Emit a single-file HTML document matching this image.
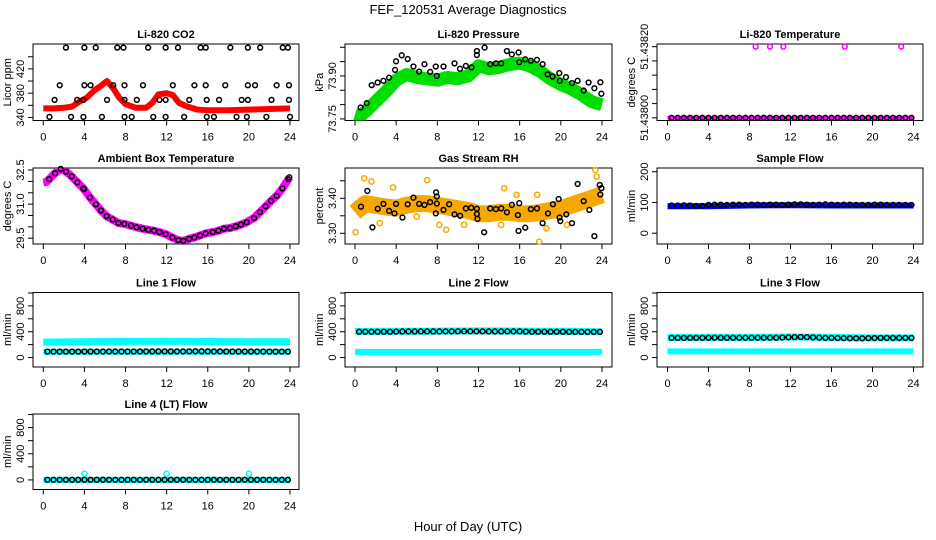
<!DOCTYPE html>
<html><head><meta charset="utf-8"><title>FEF_120531 Average Diagnostics</title>
<style>
html,body{margin:0;padding:0;background:#fff;}
svg{display:block;font-family:"Liberation Sans",Arial,sans-serif;}
</style></head>
<body>
<svg id="chart" width="936" height="540" viewBox="0 0 936 540" xmlns="http://www.w3.org/2000/svg">
<rect x="0" y="0" width="936" height="540" fill="#fff"/>
<text x="468" y="14" font-size="13" text-anchor="middle">FEF_120531  Average Diagnostics</text>
<text x="468" y="531" font-size="13" text-anchor="middle">Hour of Day (UTC)</text>
</svg>
<script>
// ---------- data ----------
const xTicks = [0,4,8,12,16,20,24];
const flatHours = [0.4,1.0,1.6,2.2,2.8,3.4,4.0,4.6,5.2,5.8,6.4,7.0,7.6,8.2,8.8,9.4,10.0,10.6,11.2,11.8,12.4,13.0,13.6,14.2,14.8,15.4,16.0,16.6,17.2,17.8,18.4,19.0,19.6,20.2,20.8,21.4,22.0,22.6,23.2,23.8];
const bandHours = [0,4,8,12,16,20,24];

// CO2
const co2Ticks = [340,360,380,400,420,440];
const co2Labels = [340,380,420];
const co2BandHours = [0,1,2,2.8,3.5,4.2,5,5.6,6.2,6.8,7.4,8,9,10,10.6,11.2,12,12.6,13.2,14,15,16,18,20,22,24];
const co2BandVals = [355,355,356,358,366,372,385,392,400,388,372,362,356,356,364,378,380,377,364,358,353,352,352,353,354,355];
const co2Row1H = [2.2,4.0,5.1,7.2,7.8,10.2,11.9,13.1,15.3,15.8,18.2,19.9,21.1,23.3,23.8];
const co2Row1V = [455,455,455,455,455,455,455,455,455,455,455,455,455,455,455];
const co2Row2H = [1.6,4.0,4.6,6.8,7.9,9.7,12.6,14.7,15.8,17.7,19.9,20.6,22.7,23.9];
const co2Row2V = [393,393,393,393,393,393,393,393,393,393,393,393,393,393];
const co2Row3H = [1.1,3.3,3.9,6.2,7.9,9.1,11.3,11.9,14.2,15.9,17.1,19.3,19.9,22.2,23.9];
const co2Row3V = [369,369,369,369,369,369,369,369,369,369,369,369,369,369,369];
const co2Row4H = [0.6,2.7,3.9,5.7,7.9,8.6,10.7,11.9,13.7,15.9,16.6,18.8,19.8,21.7,24.0];
const co2Row4V = [341,341,341,341,341,341,341,341,341,341,341,341,341,341,341];

// Pressure
const presTicks = [73.75,73.80,73.85,73.90,73.95,74.00];
const presLabels = [73.75,73.90];
const presBandHours = [0,0.5,1,2,3,4,5,6,7,8,9,10,11,12,13,14,15,16,17,18,19,20,21,22,23,24];
const presBandVals = [73.765,73.76,73.775,73.81,73.845,73.885,73.905,73.895,73.89,73.885,73.895,73.89,73.9,73.935,73.925,73.93,73.94,73.945,73.935,73.915,73.89,73.87,73.855,73.835,73.81,73.8];
const presCircH = [0.55,1.14,1.62,2.2,2.76,3.31,3.89,3.99,4.54,5.12,5.68,6.23,6.75,7.3,7.85,7.95,8.6,9.67,10.2,10.77,11.32,11.84,11.84,12.59,13.14,13.69,14.2,14.76,15.24,15.89,15.96,16.54,17.09,17.68,18.23,18.72,19.2,19.85,19.9,20.5,21.08,21.63,22.22,22.7,23.26,23.84,23.94];
const presCircV = [73.79,73.805,73.868,73.877,73.883,73.894,73.921,73.951,73.972,73.959,73.933,73.915,73.941,73.914,73.933,73.9,73.933,73.944,73.925,73.935,73.93,73.973,73.987,73.999,73.941,73.944,73.944,73.987,73.975,73.982,73.948,73.958,73.953,73.956,73.941,73.906,73.898,73.91,73.883,73.896,73.875,73.883,73.849,73.877,73.857,73.878,73.838];

// Li-820 Temperature
const ltTicks = [51.438,51.43804,51.43808,51.43812,51.43816,51.4382];
const ltLabels = ["51.43800","51.43820"];
const ltLabelVals = [51.438,51.4382];
const ltBandVals = [51.438,51.438,51.438,51.438,51.438,51.438,51.438];
const ltHighH = [8.6,10.0,11.3,17.3,22.8];
const ltHighV = [51.4382,51.4382,51.4382,51.4382,51.4382];
const ltCircV = [51.438,51.438,51.438,51.438,51.438,51.438,51.438,51.438,51.438,51.438,51.438,51.438,51.438,51.438,51.438,51.438,51.438,51.438,51.438,51.438,51.438,51.438,51.438,51.438,51.438,51.438,51.438,51.438,51.438,51.438,51.438,51.438,51.438,51.438,51.438,51.438,51.438,51.438,51.438,51.438];

// Ambient
const ambTicks = [29.5,30.0,30.5,31.0,31.5,32.0,32.5];
const ambLabels = [29.5,31.0,32.5];
const ambCircH = [0.58,1.14,1.69,2.21,2.76,3.31,3.89,3.96,4.54,5.12,5.61,6.16,6.75,7.30,7.88,8.53,9.08,9.67,10.22,10.77,11.29,11.9,12.55,13.14,13.62,14.17,14.69,15.24,15.8,16.48,17.03,17.58,18.17,18.72,19.23,19.79,20.5,21.08,21.63,22.15,22.7,23.26,23.84,23.94];
const ambCircV = [32.10,32.36,32.55,32.43,32.22,31.96,31.69,31.66,31.29,30.99,30.72,30.47,30.32,30.17,30.13,30.05,29.98,29.92,29.87,29.83,29.77,29.68,29.53,29.41,29.38,29.47,29.53,29.62,29.71,29.77,29.83,29.92,29.95,30.02,30.10,30.20,30.39,30.65,30.90,31.14,31.36,31.69,32.10,32.18];
const ambBandH = [0,0.3,0.58,1.14,1.69,2.21,2.76,3.31,3.89,4.54,5.12,5.61,6.16,6.75,7.30,7.88,8.53,9.08,9.67,10.22,10.77,11.29,11.9,12.55,13.14,13.62,14.17,14.69,15.24,15.8,16.48,17.03,17.58,18.17,18.72,19.23,19.79,20.5,21.08,21.63,22.15,22.7,23.26,23.84,23.94];
const ambBandV = [31.95,31.98,32.10,32.36,32.55,32.43,32.22,31.96,31.69,31.29,30.99,30.72,30.47,30.32,30.17,30.13,30.05,29.98,29.92,29.87,29.83,29.77,29.68,29.53,29.41,29.38,29.47,29.53,29.62,29.71,29.77,29.83,29.92,29.95,30.02,30.10,30.20,30.39,30.65,30.90,31.14,31.36,31.69,32.10,32.18];

// Gas stream RH
const rhTicks = [3.30,3.35,3.40,3.45];
const rhLabels = [3.30,3.40];
const rhBandH = [0,1,2,3,4,5,6,7,8,9,10,11,12,13,14,15,16,17,18,19,20,21,22,23,24];
const rhBandV = [3.36,3.385,3.38,3.375,3.372,3.38,3.385,3.385,3.38,3.375,3.37,3.365,3.356,3.356,3.36,3.36,3.356,3.356,3.36,3.365,3.37,3.38,3.39,3.40,3.41];
const rhOutH = [0.06,0.9,1.6,3.7,7.0,8.85,8.2,10.6,14.5,14.2,17.9,17.7,23.35,23.5,2.4,6.0,15.7,18.6,20.6];
const rhOutV = [3.303,3.457,3.448,3.431,3.452,3.31,3.324,3.324,3.429,3.324,3.276,3.41,3.481,3.462,3.329,3.348,3.41,3.314,3.324];
const rhCircH = [0.58,1.2,1.69,2.21,2.76,3.31,3.83,3.99,4.61,5.12,5.68,6.23,6.75,7.3,7.85,7.88,7.95,7.95,8.6,9.15,9.67,10.22,10.77,11.29,11.84,11.84,11.9,12.55,13.14,13.69,14.21,14.76,15.24,15.83,15.89,15.96,16.54,17.09,17.68,18.23,18.75,19.23,19.79,19.88,19.95,20.53,21.08,21.63,22.22,22.77,23.26,23.78,23.84,23.94];
const rhCircV = [3.376,3.421,3.317,3.370,3.384,3.364,3.357,3.384,3.345,3.383,3.402,3.384,3.381,3.389,3.357,3.417,3.405,3.385,3.367,3.383,3.354,3.350,3.371,3.373,3.370,3.355,3.341,3.303,3.371,3.369,3.371,3.360,3.381,3.352,3.307,3.386,3.316,3.369,3.371,3.329,3.357,3.383,3.398,3.345,3.335,3.354,3.329,3.441,3.392,3.367,3.292,3.438,3.411,3.429];

// Sample flow
const sfTicks = [0,100,200];
const sfLabels = [0,100,200];
const sfBandVals = [88,88,90,91,90,90,90];
const sfCircV = [90,90,91,90,89,89,92,93,93,92,93,93,92,93,93,92,93,93,92,93,94,94,93,92,93,94,93,92,93,93,92,92,92,93,93,92,92,92,92,92];

// Line flows
const flowTicks = [0,200,400,600,800,1000];
const flowLabels = [0,400,800];
const l1BandHi = [240,245,250,252,248,245,245];
const l1BandLo = [90,90,90,90,90,90,90];
const l1CircV = [92,92,92,92,92,92,93,93,93,93,93,93,93,93,93,94,95,95,96,96,95,95,95,96,97,97,96,95,95,94,93,93,93,93,93,93,92,92,92,92];
const l2BandHi = [405,408,410,412,410,405,400];
const l2BandLo = [88,88,88,88,88,88,88];
const l2CircV = [400,400,400,400,400,400,402,404,404,404,404,404,404,404,405,405,406,406,405,405,405,404,404,404,405,405,405,402,400,400,400,400,400,400,398,398,398,398,398,398];
const l3BandHi = [310,312,312,318,312,305,305];
const l3BandLo = [95,95,95,95,95,95,95];
const l3CircV = [305,305,305,305,305,305,306,306,306,306,306,306,306,306,306,306,306,306,310,312,316,318,316,312,308,304,304,302,300,298,298,298,300,302,304,304,304,304,304,304];
const l4BandVals = [0,0,0,0,0,0,0];
const l4OutH = [4.0,12.0,20.0];
const l4OutV = [95,95,95];
const l4CircV = [2,2,2,2,2,2,2,2,2,2,2,2,2,2,2,2,2,2,2,2,2,2,2,2,2,2,2,2,2,2,2,2,2,2,2,2,2,2,2,2];

// ---------- layout ----------
const svg = document.getElementById('chart');
const NS = 'http://www.w3.org/2000/svg';
const cols = [{l:33,r:299,x0:43.3,x24:290},{l:345,r:612,x0:355,x24:602},{l:657,r:923,x0:667.5,x24:913.5}];
const rows = [{t:44,b:120.5},{t:168,b:244},{t:292.5,b:367},{t:414,b:489.5}];

function mk(tag, attrs, parent){
  const e = document.createElementNS(NS, tag);
  for (const k in attrs) e.setAttribute(k, attrs[k]);
  (parent||svg).appendChild(e);
  return e;
}

function makePanel(name, title, ytitle, col, row, ymin, ymax, yt, yl, ylText, dec){
  const c = cols[col], r = rows[row];
  const g = mk('g', {});
  
  
  const p = {
    g: g,
    sx: h => c.x0 + h*(c.x24-c.x0)/24,
    sy: v => r.b - (v-ymin)/(ymax-ymin)*(r.b-r.t),
    c: c, r: r
  };
  const box = mk('rect', {x:c.l, y:r.t, width:c.r-c.l, height:r.b-r.t, fill:'none', stroke:'#000', 'stroke-width':1}, g);
  
  
  const tt = mk('text', {x:(c.l+c.r)/2, y:r.t-6, 'font-size':11, 'font-weight':'bold', 'text-anchor':'middle'}, g);
  tt.textContent = title;
  
  
  xTicks.forEach(h => {
    const x = p.sx(h);
    mk('line', {x1:x, x2:x, y1:r.b, y2:r.b+5, stroke:'#000', 'stroke-width':1}, g);
    const t = mk('text', {x:x, y:r.b+20, 'font-size':11, 'text-anchor':'middle'}, g);
    t.textContent = h;
    
    
  });
  yt.forEach(v => {
    const y = p.sy(v);
    mk('line', {x1:c.l-5, x2:c.l, y1:y, y2:y, stroke:'#000', 'stroke-width':1}, g);
  });
  yl.forEach((v,i) => {
    const y = p.sy(v);
    const x = c.l - 9;
    const t = mk('text', {x:x, y:y, 'font-size':11, 'text-anchor':'middle', transform:'rotate(-90 '+x+' '+y+')'}, g);
    t.textContent = ylText ? ylText[i] : (dec !== undefined ? v.toFixed(dec) : String(v));
    
    
  });
  const yx = c.l - 22, yy = (r.t+r.b)/2;
  const yti = mk('text', {x:yx, y:yy, 'font-size':11, 'text-anchor':'middle', transform:'rotate(-90 '+yx+' '+yy+')'}, g);
  yti.textContent = ytitle;
  
  
  const cp = mk('clipPath', {id:'clip-'+name}, g);
  mk('rect', {x:c.l, y:r.t, width:c.r-c.l, height:r.b-r.t}, cp);
  p.clipG = mk('g', {'clip-path':'url(#clip-'+name+')'}, g);
  p.ptsG = mk('g', {}, g);
  return p;
}

function band(p, hours, vals, color, w, nm){
  const pts = hours.map((h,i) => p.sx(h).toFixed(1)+','+p.sy(vals[i]).toFixed(1)).join(' ');
  const pl = mk('polyline', {points:pts, fill:'none', stroke:color, 'stroke-width':w, 'stroke-linecap':'butt', 'stroke-linejoin':'round'}, p.clipG);
  
  
}
function circles(p, hours, vals, color, nm, rad){
  hours.forEach((h,i) => {
    const ci = mk('circle', {cx:p.sx(h), cy:p.sy(vals[i]), r:rad||2.4, fill:'none', stroke:color, 'stroke-width':1.5}, p.ptsG);
    
    
  });
}

// ---------- panels ----------
const p1 = makePanel('co2-panel', 'Li-820 CO2', 'Licor ppm', 0, 0, 335, 461, co2Ticks, co2Labels);
band(p1, co2BandHours, co2BandVals, '#ff0000', 6, 'co2-band');
circles(p1, co2Row1H, co2Row1V, '#000', 'co2-point');
circles(p1, co2Row2H, co2Row2V, '#000', 'co2-point');
circles(p1, co2Row3H, co2Row3V, '#000', 'co2-point');
circles(p1, co2Row4H, co2Row4V, '#000', 'co2-point');

const p2 = makePanel('pressure-panel', 'Li-820 Pressure', 'kPa', 1, 0, 73.7445, 74.0115, presTicks, presLabels, null, 2);
band(p2, presBandHours, presBandVals, '#00dd00', 13, 'pressure-band');
circles(p2, presCircH, presCircV, '#000', 'pressure-point');

const p3 = makePanel('li820-temp-panel', 'Li-820 Temperature', 'degrees C', 2, 0, 51.4379925, 51.4382075, ltTicks, ltLabelVals, ltLabels);
band(p3, bandHours, ltBandVals, '#ff00ff', 4, 'li820-temp-band');
circles(p3, ltHighH, ltHighV, '#ff00ff', 'li820-temp-outlier');
circles(p3, flatHours, ltCircV, '#000', 'li820-temp-point');

const p4 = makePanel('ambient-temp-panel', 'Ambient Box Temperature', 'degrees C', 0, 1, 29.245, 32.59, ambTicks, ambLabels, null, 1);
band(p4, ambBandH, ambBandV, '#ff00ff', 8, 'ambient-temp-band');
circles(p4, ambCircH, ambCircV, '#000', 'ambient-temp-point');

const p5 = makePanel('rh-panel', 'Gas Stream RH', 'percent', 1, 1, 3.2694, 3.4866, rhTicks, rhLabels, null, 2);
band(p5, rhBandH, rhBandV, '#f7a800', 17, 'rh-band');
circles(p5, rhOutH, rhOutV, '#f7a800', 'rh-outlier', 2.6);
circles(p5, rhCircH, rhCircV, '#000', 'rh-point');

const p6 = makePanel('sample-flow-panel', 'Sample Flow', 'ml/min', 2, 1, -35, 212, sfTicks, sfLabels);
band(p6, bandHours, sfBandVals, '#0000ff', 6, 'sample-flow-band');
circles(p6, flatHours, sfCircV, '#000', 'sample-flow-point');

const p7 = makePanel('line1-flow-panel', 'Line 1 Flow', 'ml/min', 0, 2, -146, 1007, flowTicks, flowLabels);
band(p7, bandHours, l1BandHi, '#00ffff', 7, 'line1-flow-band-high');
band(p7, bandHours, l1BandLo, '#00ffff', 6, 'line1-flow-band-low');
circles(p7, flatHours, l1CircV, '#000', 'line1-flow-point');

const p8 = makePanel('line2-flow-panel', 'Line 2 Flow', 'ml/min', 1, 2, -146, 1007, flowTicks, flowLabels);
band(p8, bandHours, l2BandHi, '#00ffff', 7, 'line2-flow-band-high');
band(p8, bandHours, l2BandLo, '#00ffff', 6, 'line2-flow-band-low');
circles(p8, flatHours, l2CircV, '#000', 'line2-flow-point');

const p9 = makePanel('line3-flow-panel', 'Line 3 Flow', 'ml/min', 2, 2, -146, 1007, flowTicks, flowLabels);
band(p9, bandHours, l3BandHi, '#00ffff', 7, 'line3-flow-band-high');
band(p9, bandHours, l3BandLo, '#00ffff', 6, 'line3-flow-band-low');
circles(p9, flatHours, l3CircV, '#000', 'line3-flow-point');

const p10 = makePanel('line4-flow-panel', 'Line 4 (LT) Flow', 'ml/min', 0, 3, -146, 1007, flowTicks, flowLabels);
band(p10, bandHours, l4BandVals, '#00ffff', 6, 'line4-flow-band');
circles(p10, l4OutH, l4OutV, '#00ffff', 'line4-flow-outlier', 2.6);
circles(p10, flatHours, l4CircV, '#000', 'line4-flow-point');
</script>
</body></html>
